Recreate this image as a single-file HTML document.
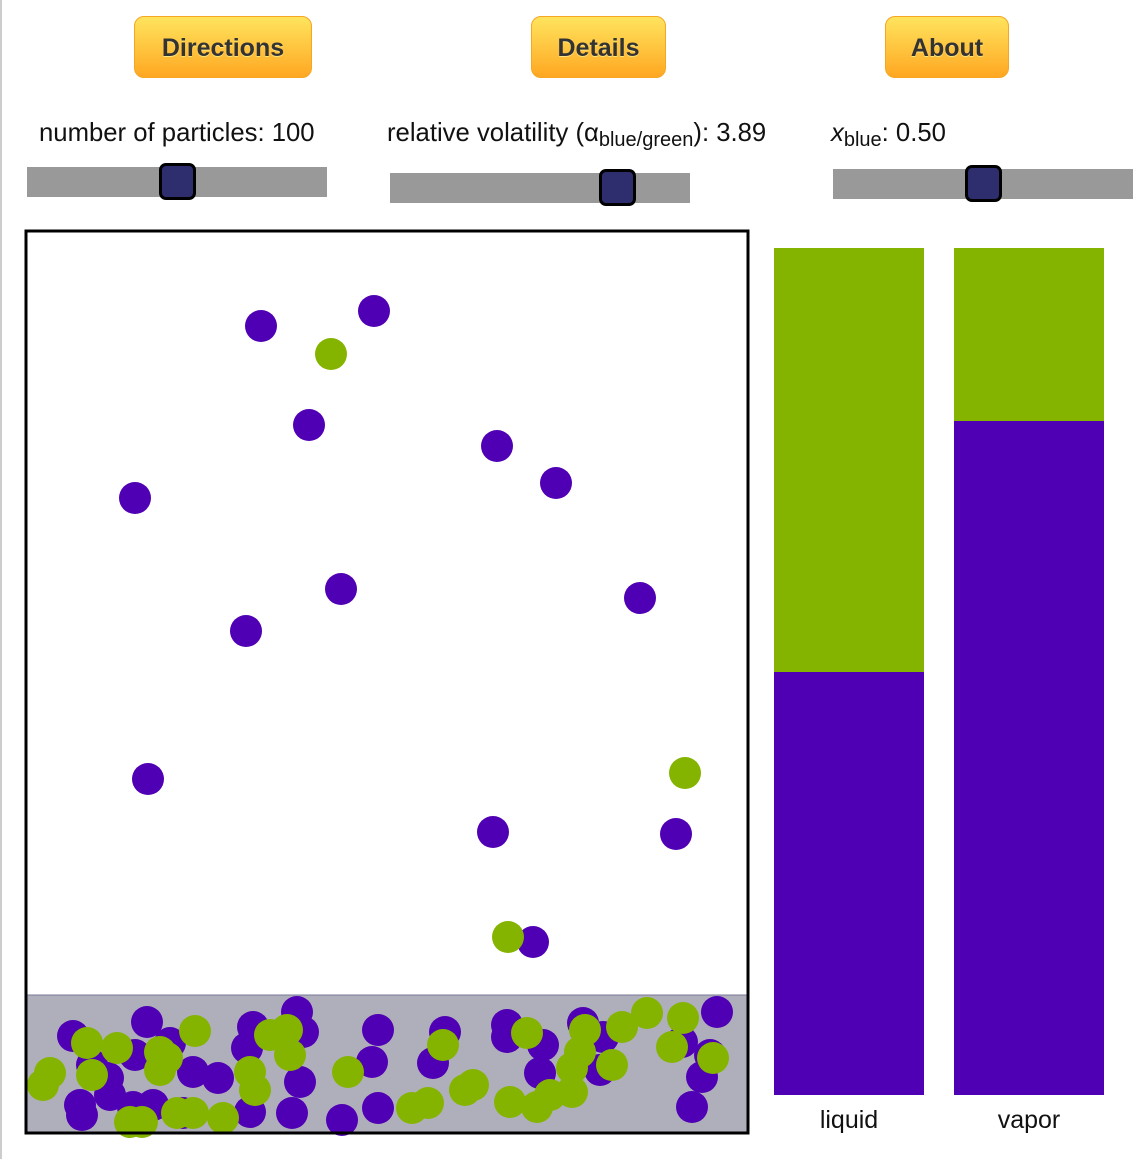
<!DOCTYPE html>
<html><head><meta charset="utf-8"><style>
body{margin:0;width:1143px;height:1159px;background:#fff;position:relative;overflow:hidden;font-family:"Liberation Sans",Arial,sans-serif;}
.btn{position:absolute;top:16px;height:62px;border:1px solid #f5a623;border-radius:10px;background:linear-gradient(#ffe45e,#ffa722);color:#333;font-weight:bold;font-size:25px;text-align:center;line-height:62px;box-sizing:border-box;text-shadow:0 1px 0 #ffe680}
.lbl{position:absolute;font-size:25.7px;color:#111;white-space:nowrap}
.trk{position:absolute;height:30px;width:300px;background:#999}
.th{position:absolute;background:#2e2e6e;border:3px solid #000;border-radius:7px;box-sizing:border-box;width:37px;height:37px}
sub{font-size:20px;vertical-align:-5px;line-height:0}
</style></head><body>
<div style="position:absolute;left:0;top:0;width:2px;height:1159px;background:#ccc"></div>
<div class="btn" style="left:134px;width:178px">Directions</div>
<div class="btn" style="left:531px;width:135px">Details</div>
<div class="btn" style="left:885px;width:124px">About</div>
<div class="lbl" style="left:39px;top:119px">number of particles: 100</div>
<div class="lbl" style="left:387px;top:119px">relative volatility (α<sub>blue/green</sub>): 3.89</div>
<div class="lbl" style="left:831px;top:119px"><i>x</i><sub>blue</sub>: 0.50</div>
<div class="trk" style="left:27px;top:167px"></div><div class="th" style="left:159px;top:163px"></div>
<div class="trk" style="left:390px;top:173px"></div><div class="th" style="left:599px;top:169px"></div>
<div class="trk" style="left:833px;top:169px;width:300px"></div><div class="th" style="left:965px;top:165px"></div>
<svg style="position:absolute;left:0;top:0" width="1143" height="1159">
<rect x="26" y="995" width="722" height="138" fill="#afafbb" stroke="#77779a" stroke-width="1"/>
<g fill="#5000b4">
<circle cx="261" cy="326" r="16"/><circle cx="374" cy="311" r="16"/><circle cx="309" cy="425" r="16"/><circle cx="497" cy="446" r="16"/><circle cx="556" cy="483" r="16"/><circle cx="135" cy="498" r="16"/><circle cx="341" cy="589" r="16"/><circle cx="246" cy="631" r="16"/><circle cx="640" cy="598" r="16"/><circle cx="148" cy="779" r="16"/><circle cx="493" cy="832" r="16"/><circle cx="676" cy="834" r="16"/><circle cx="533" cy="942" r="16"/>
<circle cx="73" cy="1036" r="16"/><circle cx="147" cy="1022" r="16"/><circle cx="135" cy="1055" r="16"/><circle cx="170" cy="1043" r="16"/><circle cx="92" cy="1065" r="16"/><circle cx="108" cy="1078" r="16"/><circle cx="193" cy="1072" r="16"/><circle cx="218" cy="1078" r="16"/><circle cx="110" cy="1095" r="16"/><circle cx="80" cy="1105" r="16"/><circle cx="82" cy="1115" r="16"/><circle cx="153" cy="1105" r="16"/><circle cx="133" cy="1107" r="16"/><circle cx="183" cy="1113" r="16"/><circle cx="250" cy="1112" r="16"/><circle cx="253" cy="1027" r="16"/><circle cx="297" cy="1012" r="16"/><circle cx="303" cy="1032" r="16"/><circle cx="247" cy="1048" r="16"/><circle cx="300" cy="1082" r="16"/><circle cx="292" cy="1113" r="16"/><circle cx="342" cy="1120" r="16"/><circle cx="372" cy="1062" r="16"/><circle cx="378" cy="1030" r="16"/><circle cx="378" cy="1108" r="16"/>
<circle cx="445" cy="1032" r="16"/><circle cx="433" cy="1063" r="16"/><circle cx="507" cy="1025" r="16"/><circle cx="507" cy="1037" r="16"/><circle cx="543" cy="1045" r="16"/><circle cx="540" cy="1073" r="16"/><circle cx="583" cy="1023" r="16"/><circle cx="603" cy="1037" r="16"/><circle cx="600" cy="1070" r="16"/><circle cx="682" cy="1042" r="16"/><circle cx="710" cy="1055" r="16"/><circle cx="702" cy="1077" r="16"/><circle cx="717" cy="1012" r="16"/><circle cx="692" cy="1107" r="16"/>
</g>
<g fill="#84b400">
<circle cx="331" cy="354" r="16"/><circle cx="685" cy="773" r="16"/><circle cx="508" cy="937" r="16"/>
<circle cx="87" cy="1043" r="16"/><circle cx="117" cy="1048" r="16"/><circle cx="195" cy="1031" r="16"/><circle cx="160" cy="1052" r="16"/><circle cx="167" cy="1058" r="16"/><circle cx="160" cy="1070" r="16"/><circle cx="50" cy="1073" r="16"/><circle cx="43" cy="1085" r="16"/><circle cx="92" cy="1075" r="16"/><circle cx="250" cy="1072" r="16"/><circle cx="255" cy="1090" r="16"/><circle cx="270" cy="1035" r="16"/><circle cx="287" cy="1030" r="16"/><circle cx="290" cy="1055" r="16"/><circle cx="348" cy="1072" r="16"/><circle cx="177" cy="1113" r="16"/><circle cx="193" cy="1113" r="16"/><circle cx="223" cy="1118" r="16"/><circle cx="130" cy="1122" r="16"/><circle cx="142" cy="1122" r="16"/>
<circle cx="443" cy="1045" r="16"/><circle cx="412" cy="1108" r="16"/><circle cx="428" cy="1103" r="16"/><circle cx="465" cy="1090" r="16"/><circle cx="473" cy="1085" r="16"/><circle cx="527" cy="1033" r="16"/><circle cx="510" cy="1102" r="16"/><circle cx="537" cy="1107" r="16"/><circle cx="550" cy="1095" r="16"/><circle cx="572" cy="1092" r="16"/><circle cx="572" cy="1068" r="16"/><circle cx="580" cy="1052" r="16"/><circle cx="585" cy="1030" r="16"/><circle cx="612" cy="1065" r="16"/><circle cx="622" cy="1027" r="16"/><circle cx="647" cy="1013" r="16"/><circle cx="683" cy="1018" r="16"/><circle cx="672" cy="1047" r="16"/><circle cx="713" cy="1058" r="16"/>
</g>
<rect x="26" y="231" width="722" height="902" fill="none" stroke="#000" stroke-width="3"/>
<rect x="774" y="248" width="150" height="424" fill="#84b400"/>
<rect x="774" y="672" width="150" height="423" fill="#5000b4"/>
<rect x="954" y="248" width="150" height="173" fill="#84b400"/>
<rect x="954" y="421" width="150" height="674" fill="#5000b4"/>
<text x="849" y="1128" font-size="25" text-anchor="middle" fill="#111" font-family="Liberation Sans, sans-serif">liquid</text>
<text x="1029" y="1128" font-size="25" text-anchor="middle" fill="#111" font-family="Liberation Sans, sans-serif">vapor</text>
</svg>
</body></html>
